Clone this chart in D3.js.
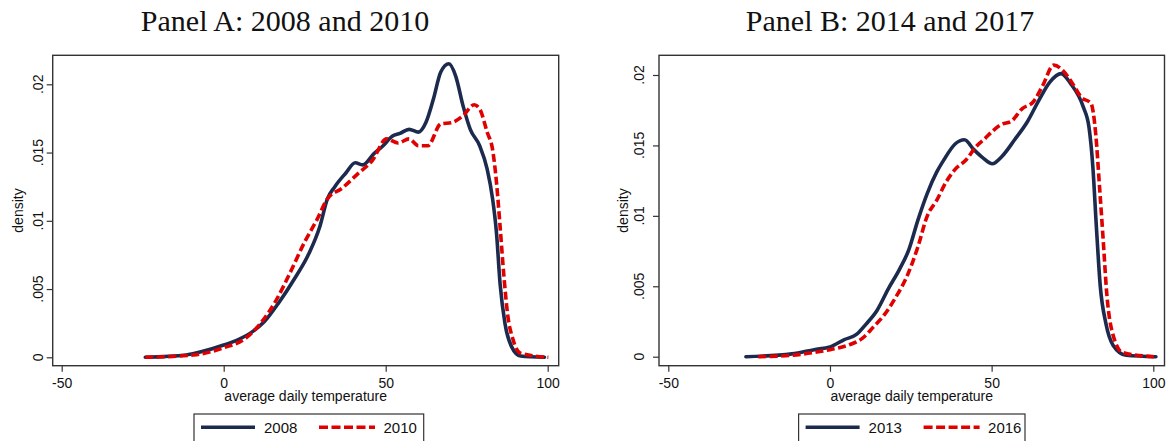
<!DOCTYPE html>
<html><head><meta charset="utf-8">
<script src="https://cdn.jsdelivr.net/npm/d3@7"></script>
<style>body{margin:0;background:#fff}svg{display:block}</style>
</head><body>
<script>
// ---------- data ----------
const xTicks = [-50, 0, 50, 100];
const xTickLabels = ["-50", "0", "50", "100"];
const yTicks = [0, 0.005, 0.01, 0.015, 0.02];
const yTickLabels = ["0", ".005", ".01", ".015", ".02"];
const panelTitles = ["Panel A: 2008 and 2010", "Panel B: 2014 and 2017"];
const xAxisTitle = "average daily temperature";
const yAxisTitle = "density";
const seriesNamesA = ["2008", "2010"];
const seriesNamesB = ["2013", "2016"];

const a2008 = [[-24.2,0],[-11.6,0.00017],[-7,0.0004],[0,0.0009],[4.5,0.0013],[9,0.0019],[12.5,0.0026],[17,0.004],[21.7,0.0057],[26.3,0.0076],[29.7,0.0096],[32,0.0116],[34.3,0.0125],[37.7,0.0135],[40.6,0.01425],[42.9,0.0141],[46.3,0.0149],[49.2,0.0155],[52,0.0162],[54.4,0.0164],[57.2,0.0167],[60.1,0.0165],[62.4,0.0172],[64.7,0.0189],[67,0.0209],[69.5,0.0215],[71.6,0.0206],[73.9,0.0184],[76.1,0.0167],[79,0.0155],[81.3,0.0138],[83,0.0116],[84.2,0.0091],[85.3,0.0054],[86.8,0.0025],[88.8,0.0008],[91.6,0.0001],[99,0]];
const a2010 = [[-24.2,0],[-9.3,0.00017],[0,0.0007],[6.8,0.0014],[11.4,0.0025],[16,0.0041],[20.5,0.0062],[25.1,0.0085],[28.6,0.01],[32,0.0116],[36.6,0.0124],[41.2,0.0134],[45.8,0.0144],[50.3,0.016],[53.8,0.0157],[57.2,0.016],[60.1,0.0155],[63,0.0155],[67,0.0171],[70.4,0.0172],[73.9,0.0177],[77.3,0.0185],[79,0.0182],[81.3,0.0165],[83,0.0152],[84.2,0.0128],[85.3,0.0096],[86.5,0.0059],[87.6,0.0032],[89.3,0.0013],[91.6,0.0003],[100.2,0]];
const b2013 = [[-26,0],[-11.8,0.0002],[-4.9,0.0005],[0,0.0007],[4.3,0.0012],[8.3,0.0016],[11.1,0.0023],[14.6,0.0033],[18,0.0048],[21.5,0.0062],[24.4,0.0076],[27.2,0.0097],[30.1,0.0116],[33,0.0131],[35.3,0.014],[38.7,0.0151],[41.6,0.0154],[44.5,0.0147],[47.4,0.0141],[50.2,0.0137],[53.1,0.0142],[57.1,0.0154],[61.1,0.0167],[64.6,0.0182],[68,0.0195],[71.5,0.0201],[74.4,0.0194],[78.4,0.0177],[80.1,0.0163],[81.3,0.0135],[82.4,0.0092],[83.6,0.005],[85.3,0.0024],[87.6,0.0008],[91.6,0.0001],[100.8,0]];
const b2016 = [[-22.2,0],[-11.8,0.0001],[-4.9,0.0003],[0,0.0005],[6.6,0.0009],[10,0.0013],[13.4,0.0021],[16.9,0.003],[20.3,0.0042],[23.8,0.0057],[27.2,0.0078],[30.1,0.01],[33,0.0111],[35.9,0.0124],[38.7,0.0133],[42.2,0.014],[45.1,0.0149],[48,0.0155],[50.2,0.016],[53.1,0.0165],[56,0.0167],[59.4,0.0176],[62.9,0.0181],[65.7,0.0192],[69.2,0.0207],[72.1,0.0203],[75,0.0194],[77.8,0.0184],[80.7,0.018],[82.2,0.0158],[83.3,0.0123],[84.5,0.0083],[85.6,0.0045],[87.6,0.0015],[90.5,0.0003],[100.2,0]];

// ---------- layout ----------
const W = 1166, H = 441;
const NAVY = "#1c2a4e", RED = "#e00000";
const panels = [
  { title: panelTitles[0], series: [a2008, a2010], names: seriesNamesA,
    frame: {l: 52.7, r: 558.7, t: 55.3, b: 365.7}, xr: [61.7, 547.7], yr: [357.3, 84.3],
    ytx: 42.5, ylab: 23, titleX: 285, legend: {l: 194, r: 423.7} },
  { title: panelTitles[1], series: [b2013, b2016], names: seriesNamesB,
    frame: {l: 659, r: 1164.5, t: 55.3, b: 365.7}, xr: [668.3, 1153.3], yr: [356.7, 75],
    ytx: 644, ylab: 628, titleX: 890, legend: {l: 798.6, r: 1025} }
];

const svg = d3.select("body").append("svg").attr("width", W).attr("height", H)
  .style("font-family", "'Liberation Sans', Arial, sans-serif");

panels.forEach(p => {
  const g = svg.append("g");
  const x = d3.scaleLinear().domain([-50, 100]).range(p.xr);
  const y = d3.scaleLinear().domain([0, 0.02]).range(p.yr);
  const f = p.frame;

  // title
  g.append("text").attr("x", p.titleX).attr("y", 31).attr("text-anchor", "middle")
    .style("font-family", "'Liberation Serif', 'Times New Roman', serif")
    .style("font-size", "30px").attr("fill", "#111").text(p.title);

  // x axis
  const xa = g.append("g").attr("transform", `translate(0,${f.b})`)
    .call(d3.axisBottom(x).tickValues(xTicks).tickSize(6).tickPadding(6)
      .tickFormat((d, i) => xTickLabels[i]));
  xa.select(".domain").remove();
  xa.selectAll(".tick line").attr("stroke", "#333").attr("stroke-width", 1.2);
  xa.selectAll(".tick text").style("font-size", "14px").attr("fill", "#111")
    .style("font-family", "'Liberation Sans', Arial, sans-serif");

  // y axis ticks
  const ya = g.append("g").attr("transform", `translate(${f.l},0)`)
    .call(d3.axisLeft(y).tickValues(yTicks).tickSize(6).tickFormat(""));
  ya.select(".domain").remove();
  ya.selectAll(".tick line").attr("stroke", "#333").attr("stroke-width", 1.2);
  g.selectAll(".ylab").data(yTicks).join("text").attr("class", "ylab")
    .attr("transform", d => `translate(${p.ytx},${y(d)}) rotate(-90)`)
    .attr("text-anchor", "middle").style("font-size", "14px").attr("fill", "#111")
    .text((d, i) => yTickLabels[i]);

  // axis titles
  g.append("text").attr("x", (f.l + f.r) / 2).attr("y", 401).attr("text-anchor", "middle")
    .style("font-size", "14px").attr("fill", "#111").text(xAxisTitle);
  g.append("text").attr("transform", `translate(${p.ylab},${(f.t + f.b) / 2}) rotate(-90)`)
    .attr("text-anchor", "middle").style("font-size", "14px").attr("fill", "#111").text(yAxisTitle);

  // lines
  const line = d3.line().x(d => x(d[0])).y(d => y(d[1])).curve(d3.curveMonotoneX);
  g.append("path").datum(p.series[0]).attr("d", line).attr("fill", "none")
    .attr("stroke", NAVY).attr("stroke-width", 3.6).attr("stroke-linejoin", "round").attr("stroke-linecap", "round");
  g.append("path").datum(p.series[1]).attr("d", line).attr("fill", "none")
    .attr("stroke", RED).attr("stroke-width", 3.6).attr("stroke-dasharray", "8,3.5");

  // frame
  g.append("rect").attr("x", f.l).attr("y", f.t).attr("width", f.r - f.l).attr("height", f.b - f.t)
    .attr("fill", "none").attr("stroke", "#333").attr("stroke-width", 1.4);

  // legend
  const L = p.legend;
  const lg = g.append("g");
  lg.append("rect").attr("x", L.l).attr("y", 414).attr("width", L.r - L.l).attr("height", 40)
    .attr("fill", "#fff").attr("stroke", "#333").attr("stroke-width", 1.2);
  const ly = 427.3;
  lg.append("line").attr("x1", L.l + 7).attr("x2", L.l + 61).attr("y1", ly).attr("y2", ly)
    .attr("stroke", NAVY).attr("stroke-width", 3.6);
  lg.append("text").attr("x", L.l + 70).attr("y", 433.3).style("font-size", "15px").attr("fill", "#111").text(p.names[0]);
  lg.append("line").attr("x1", L.l + 125).attr("x2", L.l + 181).attr("y1", ly).attr("y2", ly)
    .attr("stroke", RED).attr("stroke-width", 3.6).attr("stroke-dasharray", "9,3.5");
  lg.append("text").attr("x", L.l + 189.5).attr("y", 433.3).style("font-size", "15px").attr("fill", "#111").text(p.names[1]);
});
</script>
</body></html>
